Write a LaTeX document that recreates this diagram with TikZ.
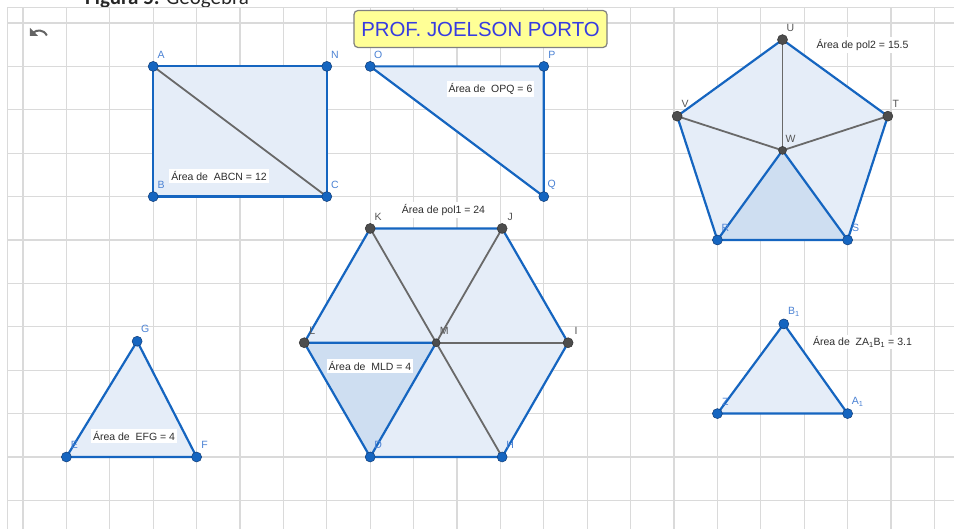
\documentclass[tikz,border=0pt]{standalone}
\usepackage{fontspec}
\setmainfont{Liberation Sans}
\newfontfamily\capfont{Carlito}
\usetikzlibrary{arrows.meta}
\definecolor{ggblue}{RGB}{21,101,192}
\definecolor{ggbluedark}{RGB}{15,60,120}
\definecolor{ggfill}{RGB}{229,237,248}
\definecolor{ggfilldark}{RGB}{206,222,241}
\definecolor{gggrid}{RGB}{218,218,218}
\definecolor{gggrey}{RGB}{105,105,105}
\definecolor{ggpoint}{RGB}{77,77,77}
\definecolor{lblblue}{RGB}{75,130,212}
\definecolor{lblgrey}{RGB}{85,85,85}
\definecolor{titleyellow}{RGB}{255,255,150}
\definecolor{titleblue}{RGB}{55,60,225}
\definecolor{txtdark}{RGB}{45,45,45}
\definecolor{icongrey}{RGB}{100,100,100}
\tikzset{
  gridline/.style={gggrid, line width=1.3pt},
  polyfill/.style={fill=ggfill},
  subfill/.style={fill=ggfilldark},
  edge/.style={ggblue, line width=2.2pt, line cap=round},
  inner/.style={gggrey, line width=1.8pt, line cap=round},
  bpt/.style={circle, inner sep=0pt, minimum size=10pt, fill=ggblue, draw=ggbluedark, line width=0.5pt},
  gpt/.style={circle, inner sep=0pt, minimum size=10pt, fill=ggpoint, draw=black!80, line width=0.5pt},
  gptsmall/.style={gpt, minimum size=8pt},
  blbl/.style={inner sep=0pt, text=lblblue, font=\fontsize{10.5}{12}\selectfont, xshift=8pt, yshift=12pt},
  glbl/.style={blbl, text=lblgrey},
  arealbl/.style={fill=white, inner sep=2pt, text=txtdark, font=\fontsize{10.5}{12}\selectfont}
}
\begin{document}
\begin{tikzpicture}[x=43.4pt,y=-43.4pt]
\useasboundingbox ({-23/43.4},{-23/43.4}) rectangle ({(954-23)/43.4},{(529-23)/43.4});
% caption (cut off at the top)
\node[anchor=base west, inner sep=0pt, text=black!85, font=\capfont\fontsize{21}{21}\selectfont] (caption) at ({(85-23)/43.4},{(5-23)/43.4}) {\textbf{Figura 5:} Geogebra};
% canvas
\draw[gggrid, line width=1pt, fill=white] ({-15/43.4},{-15/43.4}) rectangle (22,12.2);
\foreach \k in {0,...,21} \draw[gridline] (\k,{-15/43.4}) -- (\k,11.8);
\foreach \k in {0,...,11} \draw[gridline] ({-15/43.4},\k) -- (21.6,\k);
% undo icon
\begin{scope}[shift={(-23pt,23pt)}, x=1pt, y=-1pt]
  \fill[icongrey] (30,28) -- (30,36) -- (38,36) -- cycle;
  \draw[icongrey, line width=2pt] (33.5,32.5) .. controls (36.5,29.8) and (43.5,29) .. (46.8,35.5);
\end{scope}
% title
\node[draw=black!50, line width=1.2pt, fill=titleyellow, rounded corners=4pt, minimum width=253pt, minimum height=37pt, inner sep=0pt, text=titleblue, font=\fontsize{20.4}{22}\selectfont] (title) at ({(480.5-23)/43.4},{(29-23)/43.4}) {PROF. JOELSON PORTO};
% coordinates
\coordinate (A) at (3,1); \coordinate (N) at (7,1);
\coordinate (B) at (3,4); \coordinate (C) at (7,4);
\coordinate (O) at (8,1); \coordinate (P) at (12,1); \coordinate (Q) at (12,4);
\coordinate (D) at (8,10); \coordinate (H) at (11.04,10);
\coordinate (M) at (9.52,7.3673); \coordinate (L) at (6.48,7.3673); \coordinate (I) at (12.56,7.3673);
\coordinate (K) at (8,4.7346); \coordinate (J) at (11.04,4.7346);
\coordinate (R) at (16,5); \coordinate (S) at (19,5);
\coordinate (W) at (17.5,2.93543); \coordinate (U) at (17.5,0.38348);
\coordinate (T) at (19.92705,2.14683); \coordinate (V) at (15.07295,2.14683);
\coordinate (E) at (1,10); \coordinate (F) at (4,10); \coordinate (G) at (2.63,7.3333);
\coordinate (Z) at (16,9); \coordinate (A1) at (19,9); \coordinate (B1) at (17.53,6.9333);
% fills
\fill[polyfill] (A) -- (N) -- (C) -- (B) -- cycle;
\fill[polyfill] (O) -- (P) -- (Q) -- cycle;
\fill[polyfill] (K) -- (J) -- (I) -- (H) -- (D) -- (L) -- cycle;
\fill[subfill] (M) -- (L) -- (D) -- cycle;
\fill[polyfill] (U) -- (T) -- (S) -- (R) -- (V) -- cycle;
\fill[subfill] (R) -- (S) -- (W) -- cycle;
\fill[polyfill] (E) -- (F) -- (G) -- cycle;
\fill[polyfill] (Z) -- (A1) -- (B1) -- cycle;
% inner grey segments
\draw[inner] (A) -- (C);
\draw[inner] (K) -- (H);
\draw[inner] (J) -- (M);
\draw[inner] (M) -- (I);
\draw[inner] (U) -- (W);
\draw[inner] (V) -- (W);
\draw[inner] (T) -- (W);
% blue edges
\draw[edge] (A) -- (N) -- (C) -- (B) -- cycle;
\draw[edge] (O) -- (P) -- (Q) -- cycle;
\draw[edge] (K) -- (J) -- (I) -- (H) -- (D) -- (L) -- cycle;
\draw[edge] (L) -- (M) -- (D);
\draw[edge] (U) -- (T) -- (S) -- (R) -- (V) -- cycle;
\draw[edge] (R) -- (W) -- (S);
\draw[edge] (E) -- (F) -- (G) -- cycle;
\draw[edge] (Z) -- (A1) -- (B1) -- cycle;
% points
\foreach \p in {A,N,B,C,O,P,Q,D,H,R,S,E,F,G,Z,A1,B1} \node[bpt] (p\p) at (\p) {};
\foreach \p in {K,J,L,I,U,V,T} \node[gpt] (p\p) at (\p) {};
\foreach \p in {M,W} \node[gptsmall] (p\p) at (\p) {};
% point labels
\foreach \p in {A,N,B,C,O,P,Q,D,H,R,S,E,F,G,Z} \node[blbl] (l\p) at (\p) {\p};
\foreach \p in {K,J,L,M,I,U,V,T,W} \node[glbl] (l\p) at (\p) {\p};
\node[blbl, xshift=2pt] (lA1) at (A1) {A\textsubscript{1}};
\node[blbl, xshift=2pt] (lB1) at (B1) {B\textsubscript{1}};
% area labels
\node[arealbl] (aABCN) at (4.516,3.525) {Área de\ \ ABCN = 12};
\node[arealbl] (aOPQ) at (10.772,1.521) {Área de\ \ OPQ = 6};
\node[arealbl] (apol1) at (9.689,4.309) {Área de pol1 = 24};
\node[arealbl] (apol2) at (19.343,0.507) {Área de pol2 = 15.5};
\node[arealbl] (aMLD) at (7.995,7.903) {Área de\ \ MLD = 4};
\node[arealbl] (aEFG) at (2.558,9.516) {Área de\ \ EFG = 4};
\node[arealbl] (aZAB) at (19.343,7.350) {Área de\ \ ZA\textsubscript{1}B\textsubscript{1} = 3.1};
\end{tikzpicture}
\end{document}
